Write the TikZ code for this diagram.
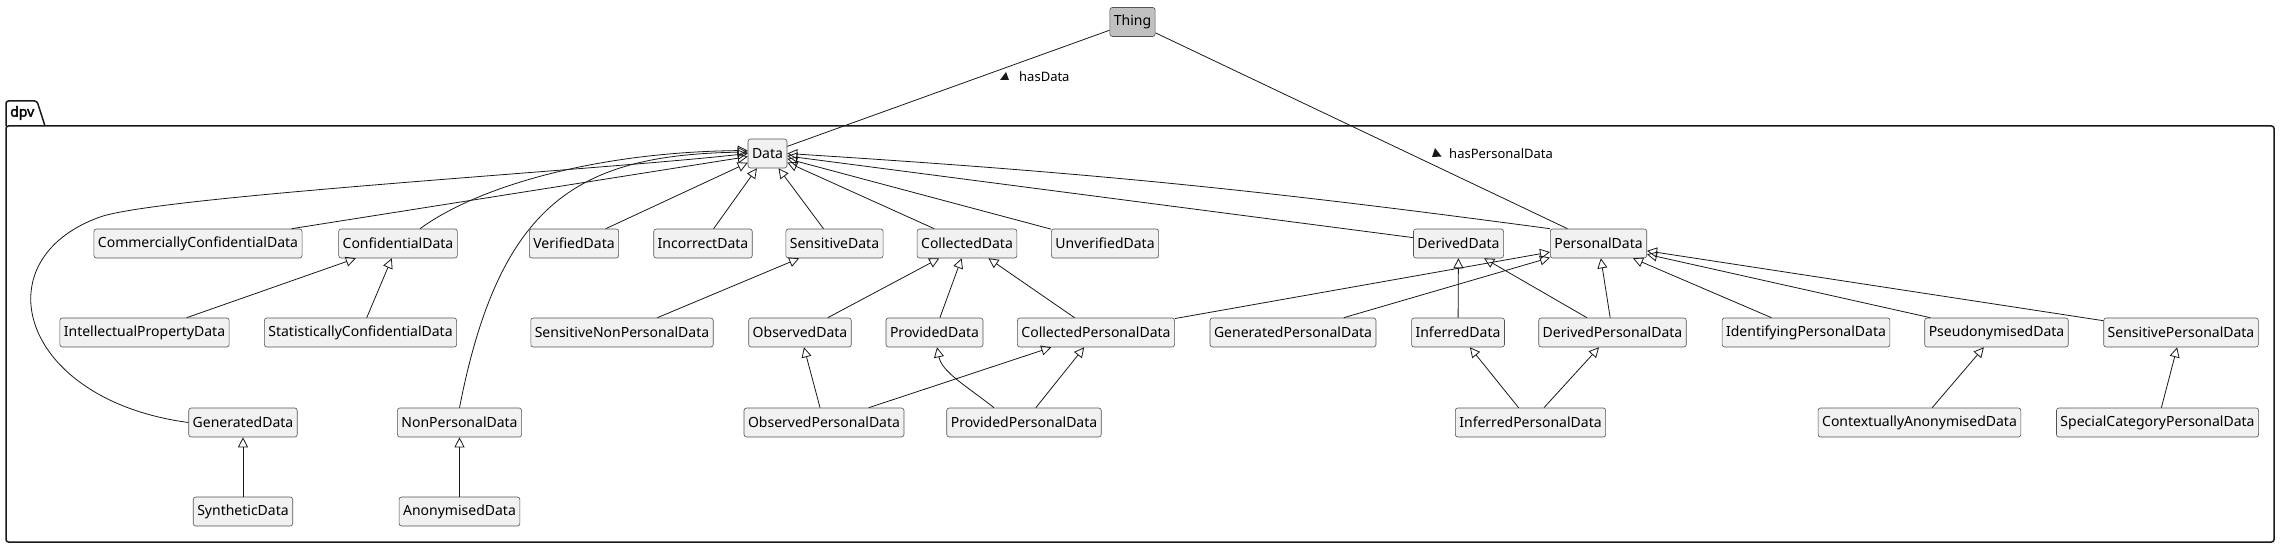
\documentclass[tikz,border=0pt]{standalone}
\usepackage{fontspec}
\setmainfont{Noto Sans}
\newfontfamily\pkgfont{Noto Sans}[FakeBold=2]
\usepackage{tikz}
\usetikzlibrary{arrows.meta,positioning}
\definecolor{ink}{HTML}{181818}
\definecolor{boxfill}{HTML}{F1F1F1}
\definecolor{topfill}{HTML}{C0C0C0}
\tikzset{
  every picture/.style = {
    x = 1pt,
    y = 1pt,
  }
  ,
  class-box/.style = {
    rectangle,
    rounded corners = 2.5pt,
    draw = ink!75,
    line width = 0.6pt,
    fill = boxfill,
    font = \fontsize{14pt}{16pt}\selectfont,
    inner xsep = 4pt,
    inner ysep = 0pt,
    minimum height = 29pt
  }
  , % the outer class
  class-top/.style = {
    class-box,
    fill = topfill
  }
  , % subclass links
  isa/.style = {
    draw = ink,
    line width = 0.8pt,
    -{Triangle[open, length=10pt, width=10pt]}
  }
  , % property links
  assoc/.style = {
    draw = ink,
    line width = 0.8pt,
    -
  }
  ,
  package/.style = {
    draw = ink,
    line width = 1.5pt,
    rounded corners = 2.5pt
  }
  , % labels of links
  label-link/.style = {
    font = \fontsize{13pt}{15pt}\selectfont,
    inner sep = 0pt,
    anchor = west
  }
}

\begin{document}
\begin{tikzpicture}
\useasboundingbox (0,0) rectangle (2281,-548);
% package frame
\draw[package] (6,-126) rectangle (2274,-542);
\draw[package] (6,-126) |- (37,-101) -- (45,-126);
\node[anchor=west, inner sep=0pt, font=\fontsize{14pt}{16pt}\pkgfont] (dpv) at (10,-113) {dpv};

\node[class-top] at (1132.5,-22) (thing) {Thing};
\node[class-box] at (767.5,-153.5) (data) {Data};

\node[class-box] at (198,-243.5) (ccd) {CommerciallyConfidentialData};
\node[class-box] at (398,-243.5) (conf) {ConfidentialData};
\node[class-box] at (574,-243.5) (verif) {VerifiedData};
\node[class-box] at (703,-243.5) (incor) {IncorrectData};
\node[class-box] at (834.5,-243.5) (sens) {SensitiveData};
\node[class-box] at (967,-243.5) (coll) {CollectedData};
\node[class-box] at (1105,-243.5) (unver) {UnverifiedData};
\node[class-box] at (1458.5,-243.5) (deriv) {DerivedData};
\node[class-box] at (1598.5,-243.5) (pers) {PersonalData};

\node[class-box] at (144.5,-332.5) (ipd) {IntellectualPropertyData};
\node[class-box] at (360.5,-332.5) (scd) {StatisticallyConfidentialData};
\node[class-box] at (622,-332.5) (snpd) {SensitiveNonPersonalData};
\node[class-box] at (800,-332.5) (obs) {ObservedData};
\node[class-box] at (934.5,-332.5) (prov) {ProvidedData};
\node[class-box] at (1096,-332.5) (cpd) {CollectedPersonalData};
\node[class-box] at (1293,-332.5) (gpd) {GeneratedPersonalData};
\node[class-box] at (1458,-332.5) (infd) {InferredData};
\node[class-box] at (1612.5,-332.5) (dpd) {DerivedPersonalData};
\node[class-box] at (1806,-332.5) (idpd) {IdentifyingPersonalData};
\node[class-box] at (1996.5,-332.5) (pseu) {PseudonymisedData};
\node[class-box] at (2181,-332.5) (spd) {SensitivePersonalData};

\node[class-box] at (243,-422.5) (gen) {GeneratedData};
\node[class-box] at (459.5,-422.5) (npd) {NonPersonalData};
\node[class-box] at (824,-422.5) (opd) {ObservedPersonalData};
\node[class-box] at (1024,-422.5) (ppd) {ProvidedPersonalData};
\node[class-box] at (1530.5,-422.5) (infpd) {InferredPersonalData};
\node[class-box] at (1919.5,-422.5) (cad) {ContextuallyAnonymisedData};
\node[class-box] at (2157.5,-422.5) (scpd) {SpecialCategoryPersonalData};

\node[class-box] at (243,-511.5) (syn) {SyntheticData};
\node[class-box] at (459.5,-511.5) (anon) {AnonymisedData};

% properties of Thing
\path (thing) edge[assoc] (data);
\path (thing) edge[assoc] (pers);
\node[label-link] at (1019,-77) (hasd) {hasData};
\fill[ink] ([xshift=-19pt,yshift=-3pt]hasd.west) -- ++(6,8) -- ++(3,-8) -- cycle;
\node[label-link] at (1449,-154) (haspd) {hasPersonalData};
\fill[ink] ([xshift=-14pt,yshift=6pt]haspd.west) -- ++(-3,-9) -- ++(9.5,0.5) -- cycle;

% subclasses of Data
\path (ccd) edge[isa] (data);
\path (verif) edge[isa] (data);
\path (incor) edge[isa] (data);
\path (sens) edge[isa] (data);
\path (coll) edge[isa] (data);
\path (unver) edge[isa] (data);
\path (deriv) edge[isa] (data);
\path (pers.north west) edge[isa, bend right=2] (data.east);
\draw[isa] ([xshift=22pt]conf.north) .. controls (480,-185) and (600,-152) .. ([yshift=3pt]data.west);
\draw[isa] (npd.north) .. controls (500,-200) and (580,-155) .. ([yshift=1.5pt]data.west);
\draw[isa] (gen.west) .. controls (20,-400) and (-20,-260) .. (100,-217)
  .. controls (160,-196) and (600,-170) .. (data.west);

% second level
\path (ipd) edge[isa] (conf);
\path (scd) edge[isa] (conf);
\path (snpd) edge[isa] (sens);
\path (obs) edge[isa] (coll);
\path (prov) edge[isa] (coll);
\path (cpd) edge[isa] (coll);
\path (cpd) edge[isa] (pers);
\path (gpd) edge[isa] (pers);
\path (infd) edge[isa] (deriv);
\path (dpd) edge[isa] (deriv);
\path (dpd) edge[isa] (pers);
\path (idpd) edge[isa] (pers);
\path (pseu) edge[isa] (pers);
\path (spd) edge[isa] (pers);

% third level
\path (opd) edge[isa] (obs);
\path (opd) edge[isa] (cpd);
\path (ppd) edge[isa] (cpd);
\draw[isa] ([xshift=-30pt]ppd.north) .. controls (965,-385) and (942,-372) .. ([xshift=2.5pt]prov.south);
\path (infpd) edge[isa] (infd);
\path (infpd) edge[isa] (dpd);
\path (cad) edge[isa] (pseu);
\path (scpd) edge[isa] (spd);
\path (syn) edge[isa] (gen);
\path (anon) edge[isa] (npd);
\end{tikzpicture}
\end{document}
